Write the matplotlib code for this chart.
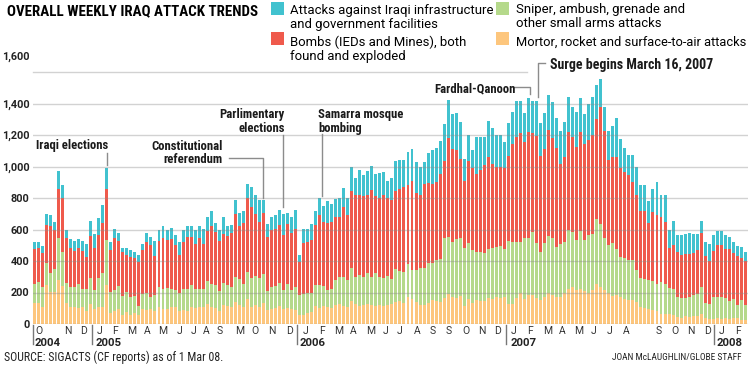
import numpy as np
import matplotlib
matplotlib.use("Agg")
import matplotlib.pyplot as plt
from matplotlib import font_manager as fm
from matplotlib.patches import Rectangle
from matplotlib.transforms import blended_transform_factory

# ---------------- data (weekly counts, Sep 2004 - Feb 2008) ----------------
mortar = [135,135,110,250,205,205,280,240,135,110,
          110,100,105,85,130,95,110,105,245,70,
          85,95,60,75,55,70,55,95,90,95,
          85,110,95,95,105,110,80,90,85,110,
          100,105,105,130,105,100,85,120,115,105,
          140,120,110,160,110,122,110,133,90,95,
          100,112,95,100,95,90,60,60,70,74,
          116,101,112,105,101,122,126,116,107,143,
          128,112,122,126,122,116,122,112,122,126,
          137,143,133,170,158,137,122,122,133,150,
          143,137,164,189,170,164,179,112,158,133,
          150,145,145,164,158,170,164,170,126,126,
          164,196,158,185,185,164,154,170,200,185,
          170,170,200,221,238,217,221,210,200,217,
          255,238,217,196,179,185,170,158,150,150,
          137,108,103,95,88,80,65,66,65,55,
          47,40,50,45,53,50,62,35,30,32,
          35,32,35,32,35,38,27,23]

sniper = [120,130,125,140,120,145,265,215,125,125,
          125,155,120,135,160,120,180,220,290,135,
          130,145,120,130,115,110,60,95,110,75,
          100,125,130,135,115,105,115,135,140,140,
          120,115,115,145,150,145,125,140,130,130,
          160,165,145,170,180,183,180,183,120,139,
          144,151,122,155,122,148,125,130,126,122,
          132,147,130,112,124,158,175,181,173,211,
          173,200,179,196,175,206,179,178,183,158,
          210,196,200,211,185,206,232,232,252,239,
          263,273,379,365,352,373,364,368,354,336,
          305,310,305,310,322,320,333,304,402,396,
          358,326,391,364,400,348,305,346,358,358,
          320,335,322,375,347,316,370,323,364,353,
          414,400,326,305,337,289,257,259,256,255,
          203,187,185,185,182,176,202,189,165,170,
          123,122,114,125,132,143,176,97,100,140,
          135,138,129,115,123,81,126,99]

bombs = [220,215,215,240,295,245,315,345,285,245,
         230,225,240,205,270,265,275,315,325,265,
         330,285,275,235,255,240,280,280,320,330,
         245,295,320,305,320,285,245,295,330,300,
         285,325,285,315,370,340,320,310,315,345,
         400,335,385,470,453,395,358,391,344,362,
         362,364,347,379,358,368,211,326,326,337,
         379,442,406,425,423,400,379,446,410,490,
         520,505,509,495,556,488,497,527,495,501,
         497,520,536,499,564,488,467,536,510,501,
         495,543,495,627,589,568,505,431,526,522,
         498,525,560,585,537,510,503,517,541,618,
         667,688,605,668,625,684,610,595,673,638,
         628,512,541,621,604,593,626,610,604,632,
         632,737,684,541,543,585,564,547,537,495,
         480,420,430,360,442,436,413,395,254,279,
         284,274,282,276,266,274,342,298,268,290,
         329,332,311,328,292,315,267,278]

infra = [45,42,45,70,75,50,110,80,55,60,
         60,60,60,80,95,90,105,115,130,50,
         60,55,30,40,45,40,40,35,55,50,
         100,65,75,65,70,65,80,75,70,75,
         90,80,100,90,95,55,70,110,65,50,
         85,85,75,88,127,117,137,83,84,84,
         84,95,133,71,105,120,42,90,84,101,
         91,112,99,139,112,116,122,122,110,152,
         107,162,133,153,153,144,160,147,111,143,
         194,183,173,210,204,196,179,137,189,215,
         217,211,231,240,221,232,232,137,164,114,
         236,205,175,231,225,202,202,167,205,209,
         228,207,185,217,207,221,205,228,221,231,
         189,210,221,225,186,221,221,189,228,242,
         217,178,148,181,196,248,184,154,131,176,
         175,165,163,140,146,208,140,166,110,151,
         114,132,127,132,122,106,71,93,107,106,
         93,90,90,80,70,63,70,55]

y_ticks = [0, 200, 400, 600, 800, 1000, 1200, 1400]
y_tick_labels = ["0", "200", "400", "600", "800", "1,000", "1,200", "1,400"]

# month tick labels (week index, label) as printed on the original graphic
month_ticks = [(1.1, "O"), (8.3, "N"), (12.3, "D"),
               (16.1, "J"), (20.0, "F"), (24.3, "M"), (28.0, "A"), (32.0, "M"), (36.2, "J"),
               (39.5, "J"), (42.7, "A"), (46.2, "S"), (51.2, "M"), (54.9, "O"), (59.1, "N"), (63.4, "D"),
               (67.4, "J"), (71.5, "F"), (75.8, "M"), (79.3, "A"), (83.8, "M"), (87.3, "J"),
               (91.0, "J"), (95.2, "A"), (99.2, "S"), (103.2, "S"), (107.4, "O"), (111.4, "N"), (115.4, "D"),
               (119.4, "J"), (123.4, "F"), (127.9, "M"), (131.4, "A"), (135.6, "M"), (139.1, "J"),
               (143.1, "J"), (147.3, "A"), (155.3, "S"), (159.5, "O"), (163.5, "N"), (167.7, "D"),
               (171.2, "J"), (175.2, "F")]
year_labels = [(0.1, "2004"), (15.3, "2005"), (65.9, "2006"), (118.6, "2007"), (169.9, "2008")]
year_dividers = [-0.37, 14.44, 65.36, 117.4, 169.27]

legend_labels = [["Attacks against Iraqi infrastructure", "and government facilities"],
                 ["Bombs (IEDs and Mines), both", "found and exploded"],
                 ["Sniper, ambush, grenade and", "other small arms attacks"],
                 ["Mortor, rocket and surface-to-air attacks"]]

# ---------------- style ----------------
C_INF = "#41c2cf"
C_BOMB = "#ef5a4c"
C_SNIP = "#b5d98b"
C_MOR = "#fdc67d"
GRID = "#8a8a8a"
LINE = "#8c8c8c"

names = set(f.name for f in fm.fontManager.ttflist)
def pick(*cands):
    for c in cands:
        if c in names:
            return c
    return "DejaVu Sans"
COND = pick("Liberation Sans Narrow", "Roboto Condensed", "Open Sans Condensed", "DejaVu Sans")
SANS = pick("Roboto", "Lato", "Open Sans", "DejaVu Sans")

W, H = 749, 367
fig = plt.figure(figsize=(W / 100, H / 100), dpi=100)
fig.patch.set_facecolor("white")
AX_L, AX_R, AX_B, AX_T = 33, 748, 324, 72
ax = fig.add_axes([AX_L / W, (H - AX_B) / H, (AX_R - AX_L) / W, (AX_B - AX_T) / H])
ax.set_xlim(-0.37, 177.66)
ax.set_ylim(0, 1600)
ax.axis("off")

x = np.arange(len(mortar))
m = np.array(mortar); s = np.array(sniper); b = np.array(bombs); i_ = np.array(infra)
bw = 0.74
ax.bar(x, m, width=bw, color=C_MOR, linewidth=0, zorder=2)
ax.bar(x, s, bottom=m, width=bw, color=C_SNIP, linewidth=0, zorder=2)
ax.bar(x, b, bottom=m + s, width=bw, color=C_BOMB, linewidth=0, zorder=2)
ax.bar(x, i_, bottom=m + s + b, width=bw, color=C_INF, linewidth=0, zorder=2)

for v in y_ticks:
    ax.axhline(v, color=GRID, alpha=0.38, lw=1.0, zorder=3)
ax.plot([-0.37, 122.6], [1600, 1600], color=GRID, alpha=0.38, lw=1.0, zorder=3, clip_on=False)

renderer = fig.canvas.get_renderer()

def T(px, py, s, size=8, family=None, weight="normal", ha="left", **kw):
    t = fig.text(px / W, 1 - py / H, s, fontsize=size, family=family or SANS,
                 fontweight=weight, ha=ha, va="baseline", **kw)
    return t

def fit(t, target):
    w = t.get_window_extent(renderer).width
    if w > 0:
        t.set_fontsize(t.get_fontsize() * target / w)
    return t.get_fontsize()

def cond_kw():
    return dict(fontstretch="condensed") if COND == "DejaVu Sans" else {}

# title
tt = T(7, 15, "OVERALL WEEKLY IRAQ ATTACK TRENDS", size=10, family=COND, weight="heavy", **cond_kw())
fit(tt, 251)

# legend
swatches = [(270.7, 2, C_INF), (270.7, 32, C_BOMB), (496, 2, C_SNIP), (496, 32, C_MOR)]
for (sx, sy, c) in swatches:
    fig.patches.append(Rectangle((sx / W, 1 - (sy + 13) / H), 13.5 / W, 13 / H,
                                 transform=fig.transFigure, color=c, lw=0))
l1 = T(290, 14, legend_labels[0][0], size=8.5)
lfs = fit(l1, 200)
T(290, 28, legend_labels[0][1], size=lfs)
T(290, 46, legend_labels[1][0], size=lfs)
T(290, 60, legend_labels[1][1], size=lfs)
T(516, 12.5, legend_labels[2][0], size=lfs)
T(516, 27, legend_labels[2][1], size=lfs)
lm = T(516, 46, legend_labels[3][0], size=lfs)
fit(lm, 231)

# y tick labels
ty = T(29.5, 103 + 4, "1,400", size=8, weight="bold", ha="right")
yfs = fit(ty, 27.6)
ty.remove()
for v, lab in zip(y_ticks, y_tick_labels):
    py = AX_B - v / 1600 * (AX_B - AX_T)
    T(29.5, py + 4, lab, size=yfs, weight="bold", ha="right", color="#222222")
T(29.5, 60, "1,600", size=yfs, weight="bold", ha="right", color="#222222")

# x labels
bt = blended_transform_factory(ax.transData, fig.transFigure)
for xi, lab in month_ticks:
    ax.text(xi, 1 - 334 / H, lab, transform=bt, ha="center", va="baseline",
            fontsize=7.5, family=SANS, color="#333333")
yt0 = ax.text(year_labels[0][0], 1 - 346 / H, year_labels[0][1], transform=bt, ha="left",
              va="baseline", fontsize=8.5, family=SANS, fontweight="bold", color="#222222")
yrfs = fit(yt0, 26)
for xi, lab in year_labels[1:]:
    ax.text(xi, 1 - 346 / H, lab, transform=bt, ha="left", va="baseline",
            fontsize=yrfs, family=SANS, fontweight="bold", color="#222222")
for xd in year_dividers:
    ax.plot([xd, xd], [1 - 325 / H, 1 - 344 / H], transform=bt, color="#777777", lw=1.0, clip_on=False)

# annotations
def val(py):
    return (AX_B - py) / (AX_B - AX_T) * 1600
def idx(px):
    return (px - 34.5) / 4.016

a1 = T(36, 149, "Iraqi elections", size=9, family=COND, weight="bold", color="#1a1a1a", **cond_kw())
afs = fit(a1, 72)
ax.plot([18, 18], [val(153), val(165)], color=LINE, lw=1, clip_on=False)

T(222.7, 150, "Constitutional", size=afs, family=COND, weight="bold", ha="right", color="#1a1a1a", **cond_kw())
T(222.7, 163, "referendum", size=afs, family=COND, weight="bold", ha="right", color="#1a1a1a", **cond_kw())
ax.plot([idx(229), 56.8, 56.8], [val(158.3), val(158.3), 800], color=LINE, lw=1, clip_on=False)

T(285, 118, "Parlimentary", size=afs, family=COND, weight="bold", ha="right", color="#1a1a1a", **cond_kw())
T(285, 132, "elections", size=afs, family=COND, weight="bold", ha="right", color="#1a1a1a", **cond_kw())
ax.plot([61.8, 61.8], [val(135), 745], color=LINE, lw=1, clip_on=False)

T(318, 118, "Samarra mosque", size=afs, family=COND, weight="bold", color="#1a1a1a", **cond_kw())
T(318, 132, "bombing", size=afs, family=COND, weight="bold", color="#1a1a1a", **cond_kw())
ax.plot([71.5, 71.5], [val(134), 810], color=LINE, lw=1, clip_on=False)

T(434, 92, "Fardhal-Qanoon", size=afs, family=COND, weight="bold", color="#1a1a1a", **cond_kw())
ax.plot([idx(514), 123.4, 123.4], [val(86.7), val(86.7), val(94.3)], color=LINE, lw=1, clip_on=False)

st = T(550, 69.5, "Surge begins March 16, 2007", size=10, family=COND, weight="bold", color="#1a1a1a", **cond_kw())
fit(st, 163)
ax.plot([idx(545), 125.4, 125.4], [val(63), val(63), val(97)], color=LINE, lw=1, clip_on=False)

# footer
so = T(4, 361, "SOURCE: SIGACTS (CF reports) as of 1 Mar 08.", size=8, family=COND, color="#222222", **cond_kw())
fit(so, 218)
jo = T(742, 360, "JOAN McLAUGHLIN/GLOBE STAFF", size=6.5, family=COND, ha="right", color="#222222", **cond_kw())
fit(jo, 129)

fig.savefig("out.png", dpi=100, facecolor="white")
